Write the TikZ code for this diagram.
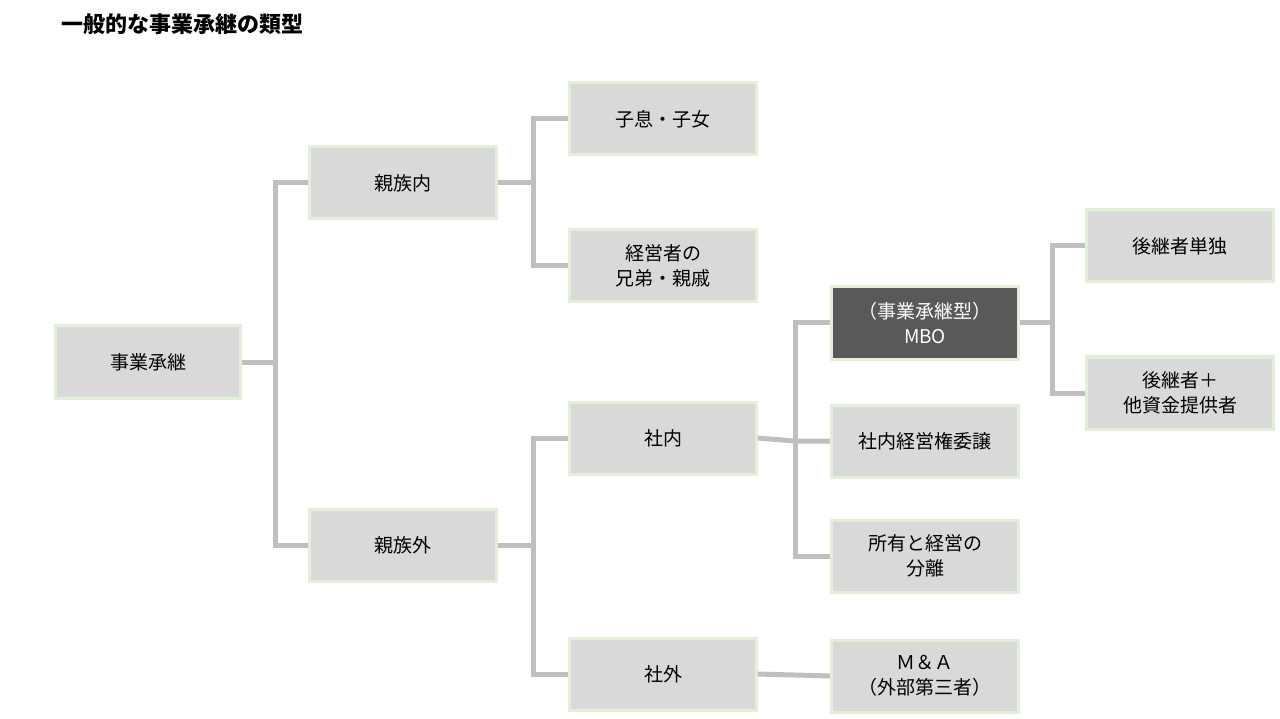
\documentclass[tikz,border=0pt]{standalone}
\usepackage{fontspec}
\setmainfont{Noto Sans CJK JP}
\usetikzlibrary{positioning}
\definecolor{boxfill}{HTML}{D9D9D9}
\definecolor{boxline}{HTML}{E2F0D9}
\definecolor{darkfill}{HTML}{595959}
\definecolor{linkgray}{HTML}{BFBFBF}
\tikzset{
  box/.style={draw=boxline, line width=2pt, fill=boxfill, minimum width=186pt,
    minimum height=71pt, align=center, font=\fontsize{19}{25}\selectfont, inner sep=2pt},
  darkbox/.style={box, fill=darkfill, text=white},
  link/.style={draw=linkgray, line width=5pt}
}
\begin{document}
\begin{tikzpicture}[x=1pt,y=-1pt]
            \useasboundingbox (0,0) rectangle (1280,719);
            \node[anchor=west, font=\fontsize{22}{26}\selectfont\bfseries] (title) at (58,24) {一般的な事業承継の類型};

            \node[box, minimum width=184pt] (root) at (148,362) {事業承継};
            \node[box] (in) at (403,183) {親族内};
            \node[box] (out) at (403,545) {親族外};
            \node[box] (child) at (663,119) {子息・子女};
            \node[box] (kin) at (663,266) {経営者の\\兄弟・親戚};
            \node[box] (inside) at (663,438) {社内};
            \node[box] (outside) at (663,674) {社外};
            \node[darkbox] (mbo) at (925,323) {（事業承継型）\\MBO};
            \node[box] (trans) at (925,441) {社内経営権委譲};
            \node[box] (sep) at (925,556) {所有と経営の\\分離};
            \node[box] (ma) at (925,676) {Ｍ＆Ａ\\（外部第三者）};
            \node[box] (solo) at (1180,246) {後継者単独};
            \node[box] (fund) at (1180,393) {後継者＋\\他資金提供者};

            \coordinate (j1) at (275,362);
            \coordinate (j2) at (533,183);
            \coordinate (j3) at (533,545);
            \coordinate (j4) at (795,441);
            \coordinate (j5) at (1052,323);

            \draw[link] (root.east) -- (j1);
            \draw[link] (in.west) -| (j1) |- (out.west);
            \draw[link] (in.east) -- (j2);
            \draw[link] (child.west) -| (j2) |- (kin.west);
            \draw[link] (out.east) -- (j3);
            \draw[link] (inside.west) -| (j3) |- (outside.west);
            \draw[link] (inside.east) -- (j4) -- (trans.west);
            \draw[link] (mbo.west) -| (j4) |- (sep.west);
            \draw[link] (outside.east) -- (ma.west);
            \draw[link] (mbo.east) -- (j5);
            \draw[link] (solo.west) -| (j5) |- (fund.west);
            \foreach \n in {root,in,out,child,kin,inside,outside,mbo,trans,sep,ma,solo,fund}
              \draw[boxline, line width=2pt] (\n.north west) rectangle (\n.south east);
\end{tikzpicture}
\end{document}
